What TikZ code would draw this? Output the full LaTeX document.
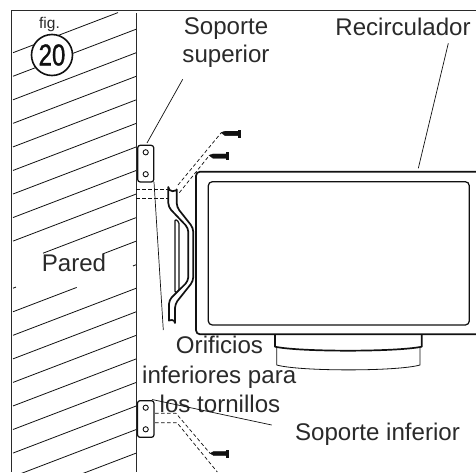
\documentclass[tikz,border=0pt]{standalone}
\usepackage{fontspec}
\setmainfont{Liberation Sans}
\newfontfamily\fatnum[FakeBold=1.3]{Liberation Sans}
\definecolor{ink}{HTML}{111111}
\definecolor{txt}{HTML}{2A2A2A}
\tikzset{
  lab/.style={anchor=base,inner sep=0pt,text=txt,font=\fontsize{24.1}{26}\selectfont},
  hatch/.style={line width=0.8pt,draw=ink},
  frameline/.style={line width=1pt,draw=txt},
  thin leader/.style={line width=0.7pt,draw=ink},
  heavy/.style={line width=1.7pt,draw=ink,line join=round},
  medium/.style={line width=1.25pt,draw=ink,line join=round},
  dash line/.style={line width=0.7pt,draw=ink,dash pattern=on 3.6pt off 2.4pt},
  screw/.style={fill=ink,draw=ink,line width=0.3pt},
}
\begin{document}
\begin{tikzpicture}[x=1pt,y=-1pt]
\fill[white] (0,0) rectangle (476,472);
\useasboundingbox (0,0) rectangle (476,472);
% frame
\draw[frameline] (476,10.3) -- (11.7,10.3) -- (11.7,472);
% wall hatching
\begin{scope}
\clip (0,0) rectangle (476,472);
\foreach \k/\a/\b in {0/13/118,1/13/136,2/13/136,3/13/136,4/13/136,5/13/136,6/13/136,7/13/136,8/13/136,
  9/43/136,10/13/16,10/103/136,11/13/76.7,11/133/136,12/13/136,13/13/136,14/13/136,15/13/136,16/13/136,17/13/136,18/13/136,19/13/136}{
  \pgfmathsetmacro\L{52.7+23.55*\k}
  \draw[hatch] (\a,{\L-0.382*(\a-13)}) -- (\b,{\L-0.382*(\b-13)});
}
\end{scope}
\draw[frameline] (136,13) -- (136,472);
% figure badge
\node[lab,font=\fontsize{15.5}{17}\selectfont] (figlabel) at (49.5,28) {fig.};
\node[circle,draw=ink,fill=white,line width=1.6pt,minimum size=41pt,inner sep=0pt,text=ink] (badge) at (52,55)
  {\fatnum\fontsize{30}{30}\selectfont\scalebox{0.8}[1]{20}};
% labels
\node[lab] (soporte1) at (226,34.3) {Soporte};
\node[lab] (soporte2) at (226,62.3) {superior};
\node[lab] (recirc) at (403,35.8) {Recirculador};
\node[lab] (pared) at (74,271.7) {Pared};
\node[lab] (orif1) at (219.5,353.3) {Orificios};
\node[lab] (orif2) at (219.2,383.3) {inferiores para};
\node[lab] (orif3) at (220,412.7) {los tornillos};
\node[lab] (soporteinf) at (377.5,440.3) {Soporte inferior};
% dashes, upper
\draw[dash line] (136,189.3) -- (168,189.3);
\draw[dash line] (136,198.3) -- (168,198.3);
\draw[dash line] (178,185) -- (221,133);
\draw[dash line] (179.3,192.7) -- (208.5,156.5);
% leaders to the upper bracket
\coordinate (supA) at (182.7,79.3);
\coordinate (supB) at (147,143);
\draw[thin leader] (supA) -- (supB);
\coordinate (orifA) at (154,182);
\coordinate (orifB) at (163.3,330);
\draw[thin leader] (orifA) -- (orifB);
% upper bracket
\draw[medium,rounded corners=2.5pt] (137.7,145.3) rectangle (153.7,182);
\draw[line width=0.9pt,draw=ink] (145.7,152.3) circle[radius=2.6];
\draw[line width=0.9pt,draw=ink] (145.7,174.2) circle[radius=2.6];
% screws
\fill[screw] (221,132.6) -- (225,131.2) -- (238.5,131.2) -- (238.5,135.6) -- (225,135.6) -- cycle;
\fill[screw] (238.5,130) rectangle (240.4,137);
\fill[screw] (209,155.3) -- (213,153.9) -- (226.5,153.9) -- (226.5,158.3) -- (213,158.3) -- cycle;
\fill[screw] (226.5,152.6) rectangle (228.4,159.6);
% inner bar
\draw[medium,rounded corners=1.5pt] (175,219) -- (179,222) -- (179,291) -- (175,293) -- cycle;
% hook plate
\draw[heavy,fill=white] (168.3,187)
  [rounded corners=4pt] -- (168.3,207) -- (188.3,228) -- (188.3,281) -- (169,300) -- (169,323)
  [sharp corners] arc[start angle=180,end angle=360,radius=3]
  [rounded corners=4pt] -- (175,304) -- (193.3,281) -- (193.3,228) -- (176.7,207) -- (176.7,187)
  [sharp corners] arc[start angle=0,end angle=180,radius=4.2] -- cycle;
% recirculator
\draw[heavy,rounded corners=4pt] (480,171.7) -- (196,171.7) -- (196,334.3) -- (480,334.3);
\draw[medium,rounded corners=4pt] (208.3,181.7) rectangle (469.3,325);
% foot
\draw[heavy] (275,334.3) -- (275,346.7) .. controls (300,352) and (396,352) .. (421.7,346.7) -- (421.7,334.3);
\draw[line width=0.8pt,draw=ink] (276.7,347.5) -- (276.7,365) .. controls (300,371.5) and (397,371.5) .. (420,365) -- (420,347.5);
% recirculator leader
\coordinate (recA) at (448.3,43.3);
\coordinate (recB) at (418.3,168.3);
\draw[thin leader] (recA) -- (recB);
% lower bracket
\draw[medium,rounded corners=2.5pt] (137.5,400.7) rectangle (154,437.3);
\draw[line width=0.9pt,draw=ink] (145.7,407.7) circle[radius=2.6];
\draw[line width=0.9pt,draw=ink] (145.7,429.3) circle[radius=2.6];
\draw[dash line] (155,413.3) -- (176,413.3) -- (210,453.3);
\draw[dash line] (155,422.7) -- (177,422.7) -- (217.3,472);
\fill[screw] (210,453.3) -- (214,451.3) -- (226,451.3) -- (226,455.7) -- (214,455.7) -- cycle;
\fill[screw] (226,449.8) rectangle (228,457);
% leader to the lower bracket
\coordinate (infA) at (271.7,425);
\coordinate (infB) at (152,399.5);
\draw[thin leader] (infA) -- (infB);
\end{tikzpicture}
\end{document}
